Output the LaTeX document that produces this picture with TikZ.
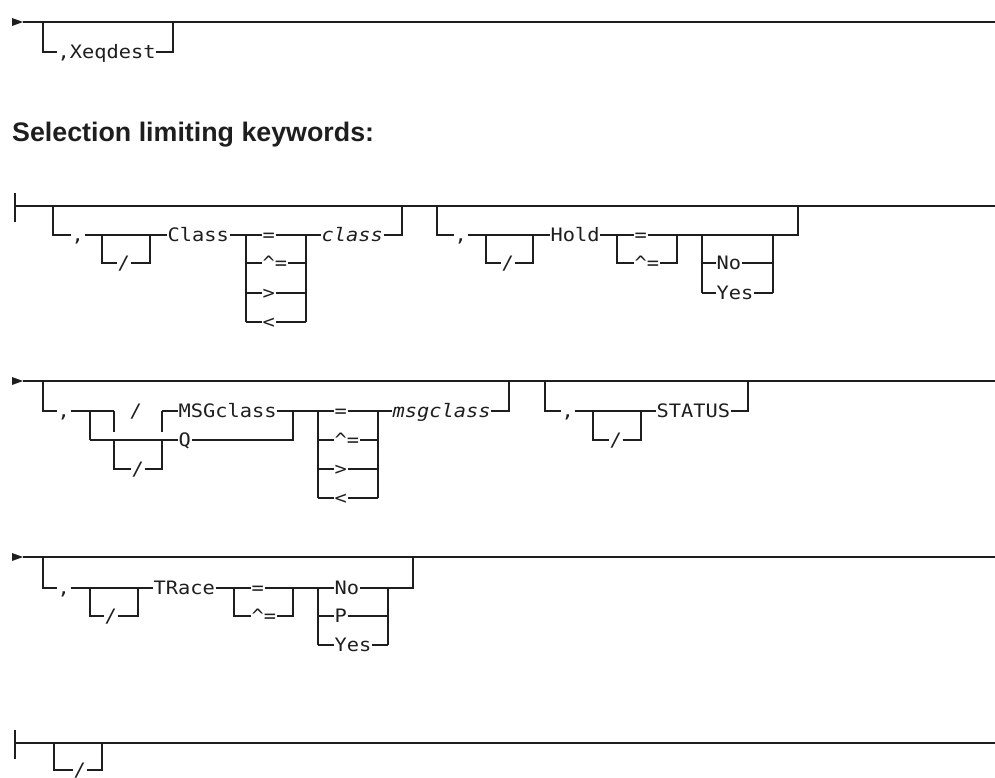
\documentclass[tikz,border=0pt]{standalone}
\usepackage{fontspec}
\newfontfamily\monofont[FakeStretch=1.1,ItalicFont={DejaVu Sans Mono Oblique}]{DejaVu Sans Mono}
\newfontfamily\headfont{Liberation Sans}
\definecolor{ink}{HTML}{1E1E1E}
\begin{document}
\begin{tikzpicture}[x=1pt,y=-1pt,
  rail/.style={draw=ink,line width=1.3pt},
  kw/.style={font=\monofont\fontsize{18.5}{18.5}\selectfont, text=ink, anchor=west, inner xsep=0.5pt, inner ysep=0pt, text height=13.4pt, text depth=0pt},
  var/.style={kw, font=\monofont\itshape\fontsize{18.5}{18.5}\selectfont}]
\useasboundingbox (0,0) rectangle (995,777);

% ---------- Section 1
\fill[ink] (12,18) -- (23,22) -- (12,26) -- cycle;
\coordinate (s1) at (23,22); \coordinate (e1) at (995,22);
\draw[rail] (s1) -- (e1);
\node[kw] (xq) at (57,52) {,Xeqdest};
\draw[rail] (43,22) |- (xq.west);
\draw[rail] (xq.east) -| (173,22);

% ---------- Heading
\node[anchor=base west, inner sep=0pt, text=ink, font=\headfont\bfseries\fontsize{26.8}{26.8}\selectfont] (head) at (12,141) {Selection limiting keywords:};

% ---------- Row 2
\draw[rail] (15,193) -- (15,222);
\draw[rail] (15,206) -- (995,206);
\node[kw] (c2a) at (71,235) {,};
\draw[rail] (53,206) |- (c2a.west);
\node[kw] (cls) at (167,235) {Class};
\draw[rail] (c2a.east) -- (cls.west);
\node[kw] (sl2a) at (117,263) {/};
\draw[rail] (102,235) |- (sl2a.west);
\draw[rail] (sl2a.east) -| (150,235);
\node[kw] (eq2a) at (262,235) {=};
\node[kw] (ne2a) at (262,263) {\textasciicircum=};
\node[kw] (gt2a) at (262,293) {>};
\node[kw] (lt2a) at (262,322) {<};
\draw[rail] (cls.east) -- (eq2a.west);
\draw[rail] (246,235) -- (246,322);
\draw[rail] (306,235) -- (306,322);
\draw[rail] (246,263) -- (ne2a.west);
\draw[rail] (246,293) -- (gt2a.west);
\draw[rail] (246,322) -- (lt2a.west);
\draw[rail] (ne2a.east) -- (306,263);
\draw[rail] (gt2a.east) -- (306,293);
\draw[rail] (lt2a.east) -- (306,322);
\node[var] (clsv) at (321,235) {class};
\draw[rail] (eq2a.east) -- (clsv.west);
\draw[rail] (clsv.east) -| (402,206);
% group 2
\node[kw] (c2b) at (454,235) {,};
\draw[rail] (437,206) |- (c2b.west);
\node[kw] (hold) at (550,235) {Hold};
\draw[rail] (c2b.east) -- (hold.west);
\node[kw] (sl2b) at (501,263) {/};
\draw[rail] (486,235) |- (sl2b.west);
\draw[rail] (sl2b.east) -| (533,235);
\node[kw] (eq2b) at (634,235) {=};
\node[kw] (ne2b) at (634,263) {\textasciicircum=};
\draw[rail] (hold.east) -- (eq2b.west);
\draw[rail] (617,235) |- (ne2b.west);
\draw[rail] (ne2b.east) -| (677,235);
\draw[rail] (eq2b.east) -- (798,235) -- (798,206);
\node[kw] (no2) at (716,263) {No};
\node[kw] (yes2) at (716,293) {Yes};
\draw[rail] (702,235) -- (702,293);
\draw[rail] (773,235) -- (773,293);
\draw[rail] (702,263) -- (no2.west);
\draw[rail] (702,293) -- (yes2.west);
\draw[rail] (no2.east) -- (773,263);
\draw[rail] (yes2.east) -- (773,293);

% ---------- Row 3
\fill[ink] (12,377) -- (23,381) -- (12,385) -- cycle;
\draw[rail] (23,381) -- (995,381);
\node[kw] (c3a) at (57,411) {,};
\draw[rail] (43,381) |- (c3a.west);
\draw[rail] (c3a.east) -- (114,411);
\draw[rail] (114,411) -- (114,432);
\draw[rail] (162,411) -- (162,432);
\node[kw] (sl3f) at (129,411) {/};
\node[kw] (msg) at (178,411) {MSGclass};
\draw[rail] (162,411) -- (msg.west);
\draw[rail] (90,411) -- (90,440);
\node[kw] (q) at (178,440) {Q};
\draw[rail] (90,440) -- (q.west);
\draw[rail] (q.east) -| (293,411);
\node[kw] (sl3a) at (131,469) {/};
\draw[rail] (114,440) |- (sl3a.west);
\draw[rail] (sl3a.east) -| (162,440);
\node[kw] (eq3) at (334,411) {=};
\node[kw] (ne3) at (334,440) {\textasciicircum=};
\node[kw] (gt3) at (334,469) {>};
\node[kw] (lt3) at (334,498) {<};
\draw[rail] (msg.east) -- (eq3.west);
\draw[rail] (318,411) -- (318,498);
\draw[rail] (378,411) -- (378,498);
\draw[rail] (318,440) -- (ne3.west);
\draw[rail] (318,469) -- (gt3.west);
\draw[rail] (318,498) -- (lt3.west);
\draw[rail] (ne3.east) -- (378,440);
\draw[rail] (gt3.east) -- (378,469);
\draw[rail] (lt3.east) -- (378,498);
\node[var] (msgv) at (392,411) {msgclass};
\draw[rail] (eq3.east) -- (msgv.west);
\draw[rail] (msgv.east) -| (509,381);
\node[kw] (c3b) at (561,411) {,};
\draw[rail] (545,381) |- (c3b.west);
\node[kw] (stat) at (656,411) {STATUS};
\draw[rail] (c3b.east) -- (stat.west);
\node[kw] (sl3b) at (609,440) {/};
\draw[rail] (593,411) |- (sl3b.west);
\draw[rail] (sl3b.east) -| (641,411);
\draw[rail] (stat.east) -| (748,381);

% ---------- Row 4
\fill[ink] (12,553) -- (23,557) -- (12,561) -- cycle;
\draw[rail] (23,557) -- (995,557);
\node[kw] (c4) at (57,588) {,};
\draw[rail] (43,557) |- (c4.west);
\node[kw] (tr) at (153,588) {TRace};
\draw[rail] (c4.east) -- (tr.west);
\node[kw] (sl4) at (104,616) {/};
\draw[rail] (90,588) |- (sl4.west);
\draw[rail] (sl4.east) -| (138,588);
\node[kw] (eq4) at (251,588) {=};
\node[kw] (ne4) at (251,616) {\textasciicircum=};
\draw[rail] (tr.east) -- (eq4.west);
\draw[rail] (234,588) |- (ne4.west);
\draw[rail] (ne4.east) -| (293,588);
\node[kw] (no4) at (334,588) {No};
\node[kw] (p4) at (334,616) {P};
\node[kw] (yes4) at (334,645) {Yes};
\draw[rail] (eq4.east) -- (no4.west);
\draw[rail] (318,588) -- (318,645);
\draw[rail] (388,588) -- (388,645);
\draw[rail] (318,616) -- (p4.west);
\draw[rail] (318,645) -- (yes4.west);
\draw[rail] (p4.east) -- (388,616);
\draw[rail] (yes4.east) -- (388,645);
\draw[rail] (no4.east) -| (413,557);

% ---------- Row 5
\draw[rail] (15,730) -- (15,759);
\draw[rail] (15,743) -- (995,743);
\node[kw] (sl5) at (73,770) {/};
\draw[rail] (54,743) |- (sl5.west);
\draw[rail] (sl5.east) -| (102,743);
\end{tikzpicture}
\end{document}
